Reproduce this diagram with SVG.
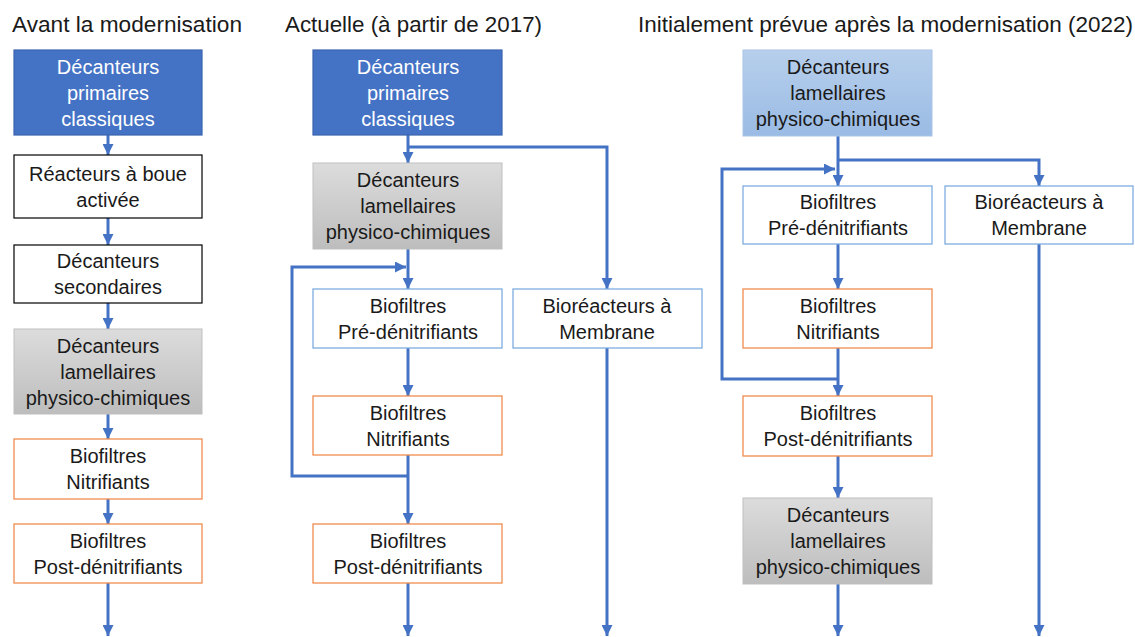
<svg xmlns="http://www.w3.org/2000/svg" width="1135" height="637" viewBox="0 0 1135 637">
<style>
  .t { font-family: "Liberation Sans", Arial, sans-serif; font-size: 20px; fill: #1a1a1a; text-anchor: middle; }
  .w { fill: #ffffff; }
  .title { font-family: "Liberation Sans", Arial, sans-serif; font-size: 22px; fill: #1a1a1a; }
  .blue { fill: #4472C4; stroke: #3A64B0; stroke-width: 1.2; }
  .plain { fill: #ffffff; stroke: #000000; stroke-width: 1.2; }
  .gray { fill: url(#gGray); stroke: #BFBFBF; stroke-width: 1; }
  .lblue { fill: url(#gLBlue); stroke: #A9C4E8; stroke-width: 1; }
  .orange { fill: #ffffff; stroke: #F08C4F; stroke-width: 1.3; }
  .pale { fill: #ffffff; stroke: #7EADE0; stroke-width: 1.3; }
  .c { fill: none; stroke: #4472C4; stroke-width: 3; }
</style>
<defs>
  <linearGradient id="gGray" x1="0" y1="0" x2="0" y2="1">
    <stop offset="0" stop-color="#DCDCDC"/>
    <stop offset="1" stop-color="#BDBDBD"/>
  </linearGradient>
  <linearGradient id="gLBlue" x1="0" y1="0" x2="0" y2="1">
    <stop offset="0" stop-color="#B7CFEC"/>
    <stop offset="1" stop-color="#9ABBE4"/>
  </linearGradient>
  <marker id="ah" markerUnits="userSpaceOnUse" markerWidth="11" markerHeight="11" refX="10" refY="5" orient="auto" viewBox="0 0 10 10">
    <path d="M0,0 L10,5 L0,10 z" fill="#4472C4"/>
  </marker>
</defs>

<g id="titles">
  <text class="title" x="12" y="32" textLength="230" lengthAdjust="spacingAndGlyphs">Avant la modernisation</text>
  <text class="title" x="285" y="32" textLength="257" lengthAdjust="spacingAndGlyphs">Actuelle (à partir de 2017)</text>
  <text class="title" x="638" y="32" textLength="495" lengthAdjust="spacingAndGlyphs">Initialement prévue après la modernisation (2022)</text>
</g>

<g id="connectors">
  <!-- column 1 -->
  <path class="c" d="M108,135 V155" marker-end="url(#ah)"/>
  <path class="c" d="M108,218 V245" marker-end="url(#ah)"/>
  <path class="c" d="M108,303 V329" marker-end="url(#ah)"/>
  <path class="c" d="M108,414 V439" marker-end="url(#ah)"/>
  <path class="c" d="M108,499 V524" marker-end="url(#ah)"/>
  <path class="c" d="M108,583 V636" marker-end="url(#ah)"/>
  <!-- column 2 -->
  <path class="c" d="M408,135 V163" marker-end="url(#ah)"/>
  <path class="c" d="M408,147 H607 V289" marker-end="url(#ah)"/>
  <path class="c" d="M408,249 V289" marker-end="url(#ah)"/>
  <path class="c" d="M408,348 V396" marker-end="url(#ah)"/>
  <path class="c" d="M408,455 V524" marker-end="url(#ah)"/>
  <path class="c" d="M408,476 H292 V267 H406" marker-end="url(#ah)"/>
  <path class="c" d="M408,583 V636" marker-end="url(#ah)"/>
  <path class="c" d="M607,348 V636" marker-end="url(#ah)"/>
  <!-- column 3 -->
  <path class="c" d="M838,136 V186" marker-end="url(#ah)"/>
  <path class="c" d="M838,160 H1039 V186" marker-end="url(#ah)"/>
  <path class="c" d="M838,244 V289" marker-end="url(#ah)"/>
  <path class="c" d="M838,348 V396" marker-end="url(#ah)"/>
  <path class="c" d="M838,379 H722 V169 H835" marker-end="url(#ah)"/>
  <path class="c" d="M838,456 V498" marker-end="url(#ah)"/>
  <path class="c" d="M838,584 V636" marker-end="url(#ah)"/>
  <path class="c" d="M1039,244 V636" marker-end="url(#ah)"/>
</g>

<!-- Column 1 -->
<g id="c1-primaires">
  <rect class="blue" x="14" y="50" width="188" height="85"/>
  <text class="t w" x="108" y="74">Décanteurs</text>
  <text class="t w" x="108" y="100">primaires</text>
  <text class="t w" x="108" y="126">classiques</text>
</g>
<g id="c1-boue">
  <rect class="plain" x="14" y="155" width="188" height="63"/>
  <text class="t" x="108" y="180.5">Réacteurs à boue</text>
  <text class="t" x="108" y="206.5">activée</text>
</g>
<g id="c1-secondaires">
  <rect class="plain" x="14" y="245" width="188" height="58"/>
  <text class="t" x="108" y="268">Décanteurs</text>
  <text class="t" x="108" y="294">secondaires</text>
</g>
<g id="c1-lamellaires">
  <rect class="gray" x="14" y="329" width="188" height="85"/>
  <text class="t" x="108" y="352.5">Décanteurs</text>
  <text class="t" x="108" y="378.5">lamellaires</text>
  <text class="t" x="108" y="404.5">physico-chimiques</text>
</g>
<g id="c1-nitrifiants">
  <rect class="orange" x="14" y="439" width="188" height="60"/>
  <text class="t" x="108" y="463">Biofiltres</text>
  <text class="t" x="108" y="489">Nitrifiants</text>
</g>
<g id="c1-post">
  <rect class="orange" x="14" y="524" width="188" height="59"/>
  <text class="t" x="108" y="547.5">Biofiltres</text>
  <text class="t" x="108" y="573.5">Post-dénitrifiants</text>
</g>

<!-- Column 2 -->
<g id="c2-primaires">
  <rect class="blue" x="313" y="50" width="189" height="85"/>
  <text class="t w" x="408" y="74">Décanteurs</text>
  <text class="t w" x="408" y="100">primaires</text>
  <text class="t w" x="408" y="126">classiques</text>
</g>
<g id="c2-lamellaires">
  <rect class="gray" x="313" y="163" width="189" height="86"/>
  <text class="t" x="408" y="187">Décanteurs</text>
  <text class="t" x="408" y="213">lamellaires</text>
  <text class="t" x="408" y="239">physico-chimiques</text>
</g>
<g id="c2-pre">
  <rect class="pale" x="313" y="289" width="189" height="59"/>
  <text class="t" x="408" y="312.5">Biofiltres</text>
  <text class="t" x="408" y="338.5">Pré-dénitrifiants</text>
</g>
<g id="c2-membrane">
  <rect class="pale" x="513" y="289" width="189" height="59"/>
  <text class="t" x="607" y="312.5">Bioréacteurs à</text>
  <text class="t" x="607" y="338.5">Membrane</text>
</g>
<g id="c2-nitrifiants">
  <rect class="orange" x="313" y="396" width="189" height="59"/>
  <text class="t" x="408" y="419.5">Biofiltres</text>
  <text class="t" x="408" y="445.5">Nitrifiants</text>
</g>
<g id="c2-post">
  <rect class="orange" x="313" y="524" width="189" height="59"/>
  <text class="t" x="408" y="547.5">Biofiltres</text>
  <text class="t" x="408" y="573.5">Post-dénitrifiants</text>
</g>

<!-- Column 3 -->
<g id="c3-lamellaires-top">
  <rect class="lblue" x="743" y="50" width="189" height="86"/>
  <text class="t" x="838" y="74">Décanteurs</text>
  <text class="t" x="838" y="100">lamellaires</text>
  <text class="t" x="838" y="126">physico-chimiques</text>
</g>
<g id="c3-pre">
  <rect class="pale" x="743" y="186" width="189" height="58"/>
  <text class="t" x="838" y="209">Biofiltres</text>
  <text class="t" x="838" y="235">Pré-dénitrifiants</text>
</g>
<g id="c3-membrane">
  <rect class="pale" x="945" y="186" width="188" height="58"/>
  <text class="t" x="1039" y="209">Bioréacteurs à</text>
  <text class="t" x="1039" y="235">Membrane</text>
</g>
<g id="c3-nitrifiants">
  <rect class="orange" x="743" y="289" width="189" height="59"/>
  <text class="t" x="838" y="312.5">Biofiltres</text>
  <text class="t" x="838" y="338.5">Nitrifiants</text>
</g>
<g id="c3-post">
  <rect class="orange" x="743" y="396" width="189" height="60"/>
  <text class="t" x="838" y="420">Biofiltres</text>
  <text class="t" x="838" y="446">Post-dénitrifiants</text>
</g>
<g id="c3-lamellaires-bottom">
  <rect class="gray" x="743" y="498" width="189" height="86"/>
  <text class="t" x="838" y="522">Décanteurs</text>
  <text class="t" x="838" y="548">lamellaires</text>
  <text class="t" x="838" y="574">physico-chimiques</text>
</g>
</svg>
